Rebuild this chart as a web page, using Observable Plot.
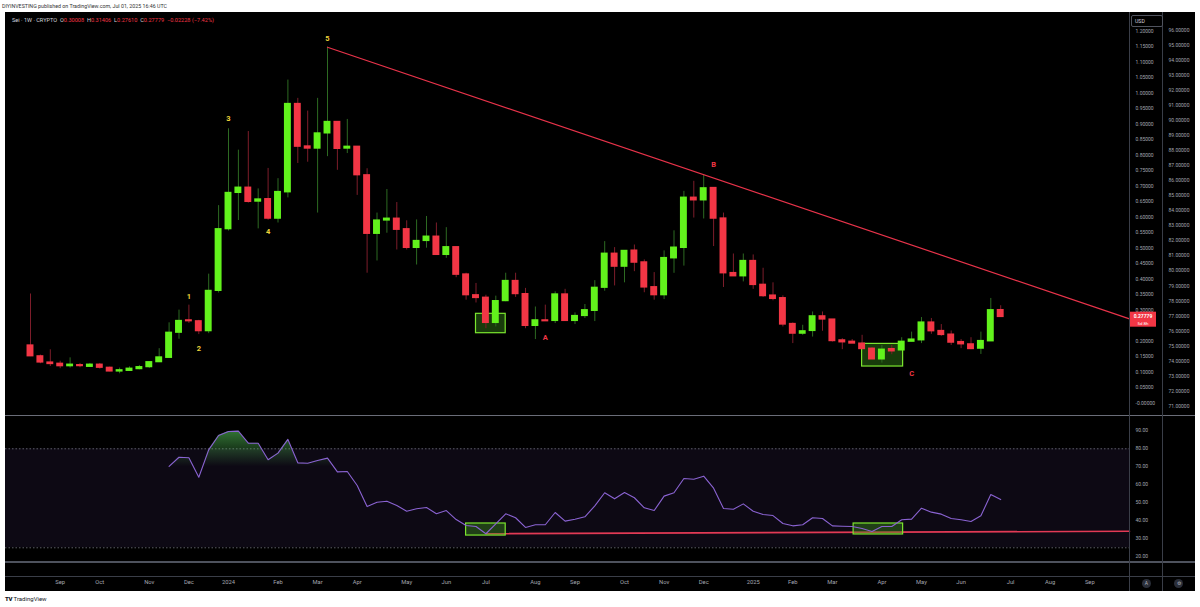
<!DOCTYPE html>
<html><head><meta charset="utf-8">
<script src="https://cdn.jsdelivr.net/npm/d3@7"></script>
<script src="https://cdn.jsdelivr.net/npm/@observablehq/plot@0.6"></script>
<style>
html,body{margin:0;padding:0;background:#fff;}
#root{position:relative;width:1200px;height:607px;overflow:hidden;font-family:Roboto,"Liberation Sans",sans-serif;}
.abs{position:absolute;}
.hl{position:absolute;height:1px;}
.vl{position:absolute;width:1px;}
</style></head>
<body><div id="root">
<div class="abs" style="left:2px;top:3px;font-size:5.3px;color:#333;white-space:nowrap">DIYINVESTING published on TradingView.com, Jul 01, 2025 16:46 UTC</div>
<div class="abs" style="left:5px;top:12px;width:1190px;height:579px;background:#000"></div>
<div id="mainWrap" class="abs" style="left:5px;top:12px"></div>
<div id="secWrap" class="abs" style="left:1162px;top:12px"></div>
<div id="rsiWrap" class="abs" style="left:5px;top:416px"></div>
<div class="hl" style="left:5px;top:415px;width:1190px;background:#6a6d78"></div>
<div class="hl" style="left:5px;top:561px;width:1190px;height:2px;background:#4e525d"></div>
<div class="hl" style="left:5px;top:576px;width:1190px;background:#3a3e48"></div>
<div class="vl" style="left:1129px;top:12px;height:579px;background:#3a3e48"></div>
<div class="vl" style="left:1162px;top:12px;height:579px;background:#3a3e48"></div>
<div class="abs" style="left:12px;top:17px;font-size:5.6px;white-space:nowrap;color:#d1d4dc">Sei · 1W · CRYPTO&nbsp;&nbsp;O<span style="color:#f23645">0.30008</span>&nbsp;&nbsp;H<span style="color:#f23645">0.31406</span>&nbsp;&nbsp;L<span style="color:#f23645">0.27610</span>&nbsp;&nbsp;C<span style="color:#f23645">0.27779</span>&nbsp;&nbsp;<span style="color:#f23645">−0.02228 (−7.42%)</span></div>
<div class="abs" style="left:1131px;top:15px;width:27px;height:10px;border:1px solid #50535e;border-radius:2px;background:#000;color:#d1d4dc;font-size:5.2px;line-height:10px;padding-left:3px;box-sizing:content-box">USD</div>
<div class="abs" style="left:1142px;top:579px;width:9px;height:9px;border-radius:50%;background:#2a2e39;color:#b2b5be;font-size:5px;line-height:9px;text-align:center">A</div>
<div class="abs" style="left:1174px;top:579px;width:9px;height:9px;border-radius:50%;background:#2a2e39;color:#b2b5be;font-size:5px;line-height:9px;text-align:center">⚙</div>
<div class="abs" style="left:5px;top:595px;font-size:6px;color:#131722;white-space:nowrap"><b style="font-weight:900;letter-spacing:-0.3px">TV</b> TradingView</div>
</div>
<script>
// ---------- DATA ----------
const firstWeek = "2023-08-14";
const opens = [0.186,0.151,0.131,0.127,0.119,0.1225,0.117,0.124,0.114,0.102,
  0.104,0.1096,0.116,0.132,0.146,0.227,0.267,0.264,0.232,0.362,
  0.561,0.678,0.695,0.650,0.658,0.595,0.680,0.965,0.828,0.821,
  0.870,0.907,0.821,0.827,0.735,0.546,0.589,0.595,0.561,0.5006,
  0.523,0.537,0.478,0.503,0.415,0.348,0.340,0.2586,0.329,0.394,
  0.3516,0.249,0.267,0.265,0.3506,0.265,0.281,0.2975,0.372,0.482,
  0.440,0.492,0.454,0.374,0.348,0.467,0.5006,0.6627,0.654,0.694,
  0.5956,0.4196,0.409,0.4585,0.3817,0.347,0.3386,0.2553,0.224,0.2327,
  0.280,0.2696,0.2025,0.198,0.192,0.1756,0.141,0.1743,0.170,0.198,
  0.2025,0.260,0.2327,0.221,0.197,0.1896,0.1756,0.1993,0.30008];
const highs = [0.352,0.155,0.172,0.135,0.146,0.128,0.128,0.128,0.116,0.113,
  0.117,0.1215,0.132,0.1756,0.259,0.300,0.316,0.267,0.416,0.637,
  0.885,0.816,0.876,0.691,0.757,0.724,1.042,0.983,0.942,0.983,
  1.148,0.907,0.915,0.827,0.756,0.613,0.689,0.647,0.588,0.591,
  0.602,0.581,0.566,0.503,0.419,0.386,0.348,0.345,0.419,0.419,
  0.370,0.310,0.316,0.359,0.367,0.291,0.318,0.395,0.521,0.5016,
  0.491,0.510,0.462,0.421,0.491,0.5557,0.683,0.7155,0.737,0.694,
  0.613,0.481,0.481,0.478,0.435,0.388,0.346,0.2586,0.251,0.294,
  0.294,0.2696,0.208,0.205,0.2187,0.179,0.186,0.186,0.211,0.229,
  0.276,0.273,0.2534,0.2327,0.205,0.211,0.229,0.3376,0.31406];
const lows = [0.150,0.127,0.118,0.111,0.113,0.114,0.115,0.1096,0.101,0.0946,
  0.103,0.1076,0.112,0.131,0.145,0.206,0.257,0.221,0.224,0.355,
  0.555,0.589,0.645,0.562,0.590,0.581,0.662,0.773,0.777,0.613,
  0.795,0.751,0.805,0.670,0.419,0.4585,0.548,0.494,0.494,0.4455,
  0.4997,0.478,0.467,0.4045,0.332,0.323,0.240,0.2456,0.327,0.341,
  0.240,0.205,0.264,0.2566,0.265,0.2534,0.273,0.263,0.361,0.378,
  0.388,0.424,0.356,0.332,0.334,0.4187,0.442,0.597,0.594,0.505,
  0.373,0.409,0.391,0.367,0.341,0.330,0.2456,0.192,0.2187,0.213,
  0.2317,0.197,0.1724,0.192,0.1743,0.141,0.129,0.156,0.170,0.198,
  0.192,0.222,0.2155,0.186,0.1756,0.1724,0.157,0.1993,0.27610];
const closes = [0.151,0.131,0.126,0.119,0.124,0.1193,0.124,0.114,0.102,0.106,
  0.111,0.116,0.132,0.1474,0.227,0.265,0.264,0.232,0.362,0.561,
  0.678,0.695,0.649,0.657,0.595,0.681,0.965,0.827,0.821,0.870,
  0.907,0.820,0.827,0.735,0.546,0.589,0.595,0.559,0.5006,0.523,
  0.537,0.478,0.503,0.414,0.348,0.339,0.2586,0.329,0.394,0.3516,
  0.249,0.267,0.264,0.3506,0.265,0.281,0.2997,0.372,0.482,0.440,
  0.491,0.453,0.373,0.348,0.468,0.5016,0.6627,0.654,0.693,0.595,
  0.4187,0.409,0.4585,0.381,0.345,0.336,0.2534,0.224,0.2317,0.280,
  0.2696,0.200,0.196,0.192,0.1743,0.141,0.1724,0.1669,0.198,0.205,
  0.260,0.2317,0.2197,0.195,0.1896,0.1743,0.2003,0.2997,0.27779];
const rsiFirstIndex = 14;
const rsiValues = [70.2,75.3,75.0,64.2,79.4,87.4,89.6,89.8,83.1,83.1,
  73.9,77.6,85.2,72.2,72.0,73.5,74.8,67.2,67.4,59.6,
  47.9,50.3,50.9,48.5,45.3,46.7,47.4,43.9,45.7,40.7,
  37.4,36.8,32.8,38.3,43.9,41.7,36.3,37.8,37.8,44.6,
  39.8,40.9,42.2,48.3,55.6,52.2,55.7,52.8,47.2,45.7,
  53.7,55.6,63.5,63.1,64.8,58.1,46.8,46.4,49.4,45.3,
  43.5,42.9,38.5,37.2,37.8,41.7,41.3,37.2,37.0,36.8,
  35.7,34.1,36.8,36.8,40.6,40.9,47.0,44.8,43.7,41.3,
  40.6,39.6,42.8,54.6,51.8];
const waveText = ["1","2","3","4","5","A","B","C"];
const waveCandle = [16,17,20,24,30,52,69,89];
const wavePrice = [0.344,0.176,0.918,0.554,1.176,0.212,0.770,0.095];
const trendCandles = [30,68];           // trend line through these highs
const priceBoxX = [["2024-06-24","2024-07-15"],["2025-03-24","2025-04-22"]];
const priceBoxY = [[0.2255,0.288],[0.118,0.191]];
const rsiBoxX = [["2024-06-17","2024-07-15"],["2025-03-18","2025-04-22"]];
const rsiBoxY = [[31.8,38.5],[32.4,38.5]];
const rsiTrendStart = ["2024-07-01",32.8];
const rsiTrendEndValue = 34.2;
const rsiBands = [80,25];
// 0.25000 sits under the last-price label in the reference, so it is not listed
const priceTicks = [1.2,1.15,1.1,1.05,1.0,0.95,0.9,0.85,0.8,0.75,0.7,0.65,0.6,0.55,0.5,0.45,0.4,0.35,0.3,0.2,0.15,0.1,0.05,0];
const secondTicks = [96,95,94,93,92,91,90,89,88,87,86,85,84,83,82,81,80,79,78,77,76,75,74,73,72,71];
const rsiTicks = [90,80,70,60,50,40,30,20];
const timeTickDates = ["2023-09-04","2023-10-02","2023-11-06","2023-12-04","2024-01-01","2024-02-05","2024-03-04","2024-04-01","2024-05-06","2024-06-03","2024-07-01","2024-08-05","2024-09-02","2024-10-07","2024-11-04","2024-12-02","2025-01-06","2025-02-03","2025-03-03","2025-04-07","2025-05-05","2025-06-02","2025-07-07","2025-08-04","2025-09-01"];
const timeTickLabels = ["Sep","Oct","Nov","Dec","2024","Feb","Mar","Apr","May","Jun","Jul","Aug","Sep","Oct","Nov","Dec","2025","Feb","Mar","Apr","May","Jun","Jul","Aug","Sep"];
const countdown = "5d 8h";

// ---------- BUILD ----------
const GREEN = "#62f21c", RED = "#f23645", GWICK = "#2d6a22", RWICK = "#7d1d2a";
const AXIS_TXT = "#a3a6af";
const day = 864e5;
const start = new Date(firstWeek + "T00:00:00Z");
const candles = opens.map((o,i) => ({
  date: d3.utcMonday.offset(start, i), open:o, high:highs[i], low:lows[i], close:closes[i], up: closes[i] >= o
}));
const rsi = rsiValues.map((v,i) => ({date: candles[i + rsiFirstIndex].date, rsi: v}));

// x calibration: weekly spacing 9.9px, Jan 1 2024 at page x 228; plot spans page x 5..1129
const pxPerDay = 9.9/7, anchor = Date.UTC(2024,0,1), anchorPx = 228;
const xDomain = [new Date(anchor - (anchorPx-5)/pxPerDay*day), new Date(anchor + (1129-anchorPx)/pxPerDay*day)];
const halfBody = 2.45*day;

const t0 = candles[trendCandles[0]], t1 = candles[trendCandles[1]];
const slope = (t1.high - t0.high)/(t1.date - t0.date);
const trend = [{date:t0.date, v:t0.high}, {date:xDomain[1], v:t0.high + slope*(xDomain[1]-t0.date)}];

const waves = waveText.map((t,i) => ({text:t, date:candles[waveCandle[i]].date, v:wavePrice[i], num: /\d/.test(t)}));
const pBoxes = priceBoxX.map((x,i)=>({x1:new Date(x[0]), x2:new Date(x[1]), y1:priceBoxY[i][0], y2:priceBoxY[i][1]}));
const rBoxes = rsiBoxX.map((x,i)=>({x1:new Date(x[0]), x2:new Date(x[1]), y1:rsiBoxY[i][0], y2:rsiBoxY[i][1]}));
const rTrend = [{date:new Date(rsiTrendStart[0]), v:rsiTrendStart[1]}, {date:xDomain[1], v:rsiTrendEndValue}];

const font = "Roboto, 'Liberation Sans', sans-serif";

const main = Plot.plot({
  width:1190, height:404, marginLeft:0, marginRight:66, marginTop:0, marginBottom:0,
  style:{background:"transparent", fontFamily:font, overflow:"visible"},
  x:{type:"utc", domain:xDomain, axis:null},
  y:{domain:[-0.0432,1.26]},
  marks:[
    Plot.rect(pBoxes, {x1:"x1", x2:"x2", y1:"y1", y2:"y2", fill:"#3f9a1c", fillOpacity:0.38, stroke:"#7be52f", strokeWidth:1.2}),
    Plot.ruleX(candles, {x:"date", y1:"low", y2:"high", stroke:d=>d.up?GWICK:RWICK, strokeWidth:1}),
    Plot.rect(candles, {x1:d=>new Date(+d.date-halfBody), x2:d=>new Date(+d.date+halfBody), y1:"open", y2:"close", fill:d=>d.up?GREEN:RED, insetTop:-0.6, insetBottom:-0.6}),
    Plot.line(trend, {x:"date", y:"v", stroke:"#e8334a", strokeWidth:1.2}),
    Plot.text(waves, {x:"date", y:"v", text:"text", fill:d=>d.num?"#eed33a":"#f23645", fontSize:7.5, fontWeight:"bold"}),
    Plot.axisY(priceTicks, {anchor:"right", tickSize:0, tickPadding:6, textAnchor:"start", fontSize:5, fill:AXIS_TXT,
      tickFormat:d => d === 0 ? "-0.00000" : d.toFixed(5)})
  ]
});
document.getElementById("mainWrap").append(main);

// current price label
{
  const y = main.scale("y"), last = candles[candles.length-1];
  const yc = y.apply(last.close);
  const svg = d3.select(main);
  const g = svg.append("g");
  g.append("rect").attr("x",1125).attr("y",yc-4.8).attr("width",26).attr("height",15).attr("fill",RED);
  g.append("text").attr("x",1138).attr("y",yc+1.4).attr("text-anchor","middle").attr("font-size",5).attr("font-weight","bold").attr("fill","#fff").text(last.close.toFixed(5));
  g.append("text").attr("x",1138).attr("y",yc+8.4).attr("text-anchor","middle").attr("font-size",4.4).attr("fill","#fff").text(countdown);
}

const sec = Plot.plot({
  width:33, height:404, margin:0,
  style:{background:"transparent", fontFamily:font, overflow:"visible"},
  x:{domain:[0,1], axis:null},
  y:{domain:[70.31,97.19], axis:null},
  marks:[
    Plot.text(secondTicks, {y:d=>d, frameAnchor:"left", textAnchor:"start", dx:6, text:d=>d.toFixed(5), fontSize:5, fill:AXIS_TXT})
  ]
});
document.getElementById("secWrap").append(sec);

const tickMap = new Map(timeTickDates.map((d,i)=>[+new Date(d), timeTickLabels[i]]));
const rsiPlot = Plot.plot({
  width:1190, height:175, marginLeft:0, marginRight:66, marginTop:0, marginBottom:29,
  style:{background:"transparent", fontFamily:font, overflow:"visible"},
  x:{type:"utc", domain:xDomain},
  y:{domain:[16.83,97.94]},
  marks:[
    Plot.rect([rsiBands], {x1:()=>xDomain[0], x2:()=>xDomain[1], y1:d=>d[1], y2:d=>d[0], fill:"#7e57c2", fillOpacity:0.1}),
    Plot.ruleY(rsiBands, {stroke:"#787b86", strokeOpacity:0.75, strokeDasharray:"1.5,2"}),
    Plot.areaY(rsi, {x:"date", y1:50, y2:"rsi", fill:"url(#obGrad)"}),
    Plot.line(rTrend, {x:"date", y:"v", stroke:"#e23a55", strokeWidth:1.6}),
    Plot.rect(rBoxes, {x1:"x1", x2:"x2", y1:"y1", y2:"y2", fill:"#3f9a1c", fillOpacity:0.38, stroke:"#7be52f", strokeWidth:1.2}),
    Plot.line(rsi, {x:"date", y:"rsi", stroke:"#8a63d2", strokeWidth:1.1}),
    Plot.axisY(rsiTicks, {anchor:"right", tickSize:0, tickPadding:6, textAnchor:"start", fontSize:5, fill:AXIS_TXT, tickFormat:d=>d.toFixed(2)}),
    Plot.axisX(timeTickDates.map(d=>new Date(d)), {anchor:"bottom", tickSize:0, tickPadding:17, fontSize:5.8, fill:AXIS_TXT, tickFormat:d=>tickMap.get(+d)})
  ]
});
{
  const y = rsiPlot.scale("y");
  const svg = d3.select(rsiPlot);
  const grad = svg.insert("defs", ":first-child").append("linearGradient").attr("id","obGrad")
    .attr("gradientUnits","userSpaceOnUse").attr("x1",0).attr("x2",0).attr("y1",y.apply(100)).attr("y2",y.apply(70));
  grad.append("stop").attr("offset",0).attr("stop-color","#4caf50").attr("stop-opacity",1);
  grad.append("stop").attr("offset",1).attr("stop-color","#4caf50").attr("stop-opacity",0);
}
document.getElementById("rsiWrap").append(rsiPlot);
</script>
</body></html>
